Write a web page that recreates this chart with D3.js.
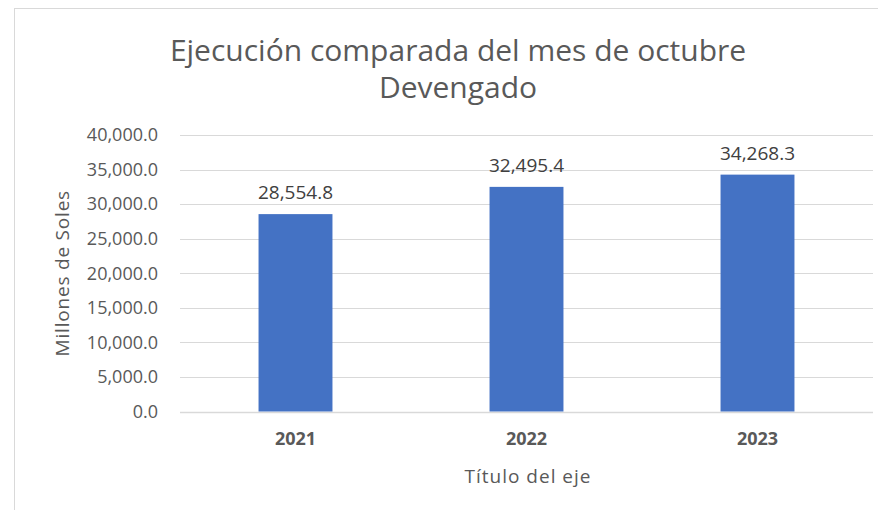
<!DOCTYPE html>
<html>
<head>
<meta charset="utf-8">
<script src="https://cdn.jsdelivr.net/npm/d3@7"></script>
<style>
  body { margin: 0; background: #fff; }
  svg { display: block; font-family: "Open Sans", "Noto Sans", sans-serif; }
</style>
</head>
<body>
<div id="chart"></div>
<script>
// data
var years = ["2021", "2022", "2023"];
var devengado = [28554.8, 32495.4, 34268.3];
var yTicks = [0, 5000, 10000, 15000, 20000, 25000, 30000, 35000, 40000];

var width = 878, height = 510;
var plot = { left: 180, right: 873, top: 135, bottom: 411.5 };

var svg = d3.select("#chart").append("svg")
  .attr("width", width)
  .attr("height", height);

// chart frame (runs off the right and bottom edges)
svg.append("rect")
  .attr("x", 14.5).attr("y", 8.5)
  .attr("width", 880).attr("height", 520)
  .attr("fill", "#fff")
  .attr("stroke", "#d9d9d9");

var x = d3.scaleBand().domain(years).range([plot.left, plot.right]).paddingInner(0.68).paddingOuter(0.34);
var y = d3.scaleLinear().domain([0, 40000]).range([plot.bottom, plot.top]);

var fmt = d3.format(",.1f");

// gridlines
svg.append("g")
  .selectAll("line")
  .data(yTicks)
  .join("line")
  .attr("x1", plot.left).attr("x2", plot.right)
  .attr("y1", function (d) { return Math.round(y(d)) + 0.5; })
  .attr("y2", function (d) { return Math.round(y(d)) + 0.5; })
  .attr("stroke", "#d9d9d9")
  .attr("stroke-width", function (d) { return d === 0 ? 1.5 : 1; });

// y tick labels
svg.append("g")
  .selectAll("text")
  .data(yTicks)
  .join("text")
  .attr("x", 158)
  .attr("y", function (d) { return y(d); })
  .attr("dy", "0.35em")
  .attr("text-anchor", "end")
  .attr("fill", "#595959")
  .style("font-size", "18px")
  .text(fmt);

// bars
svg.append("g")
  .selectAll("rect")
  .data(devengado)
  .join("rect")
  .attr("x", function (d, i) { return x(years[i]); })
  .attr("width", x.bandwidth())
  .attr("y", function (d) { return y(d); })
  .attr("height", function (d) { return y(0) - y(d); })
  .attr("fill", "#4472c4");

// data labels
svg.append("g")
  .selectAll("text")
  .data(devengado)
  .join("text")
  .attr("x", function (d, i) { return x(years[i]) + x.bandwidth() / 2; })
  .attr("y", function (d) { return y(d) - 15; })
  .attr("text-anchor", "middle")
  .attr("fill", "#404040")
  .style("font-size", "19px")
  .text(fmt);

// category labels
svg.append("g")
  .selectAll("text")
  .data(years)
  .join("text")
  .attr("x", function (d) { return x(d) + x.bandwidth() / 2; })
  .attr("y", 445)
  .attr("text-anchor", "middle")
  .attr("fill", "#595959")
  .style("font-size", "18px")
  .style("font-weight", "bold")
  .text(function (d) { return d; });

// axis titles
svg.append("text")
  .attr("x", 528).attr("y", 483)
  .attr("text-anchor", "middle")
  .attr("fill", "#595959")
  .style("font-size", "19px")
  .style("letter-spacing", "1px")
  .text("Título del eje");

svg.append("text")
  .attr("transform", "translate(69," + ((plot.top + plot.bottom) / 2) + ") rotate(-90)")
  .attr("text-anchor", "middle")
  .attr("fill", "#595959")
  .style("font-size", "19px")
  .style("letter-spacing", "0.8px")
  .text("Millones de Soles");

// title
var title = svg.append("text")
  .attr("text-anchor", "middle")
  .attr("fill", "#595959")
  .style("font-size", "30px");
title.append("tspan").attr("x", 458).attr("y", 61).text("Ejecución comparada del mes de octubre");
title.append("tspan").attr("x", 458).attr("y", 98).text("Devengado");
</script>
</body>
</html>
